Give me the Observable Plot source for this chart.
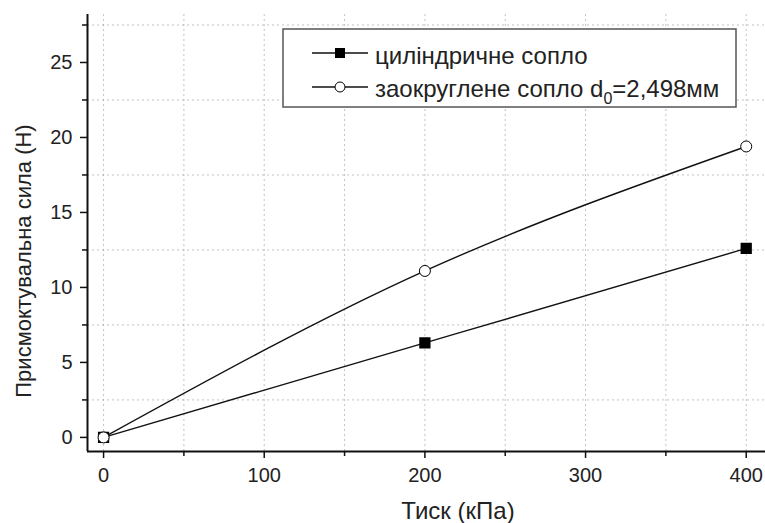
<!DOCTYPE html>
<html><head><meta charset="utf-8">
<script src="https://cdn.jsdelivr.net/npm/d3@7"></script>
<script src="https://cdn.jsdelivr.net/npm/@observablehq/plot@0.6"></script>
<style>
body{margin:0;background:#fff;font-family:"Liberation Sans",Arial,sans-serif;}
#chart{position:relative;width:765px;height:523px;}
</style></head>
<body><div id="chart"></div>
<script>
const pressure = [0, 200, 400];
const cylindrical = [0, 6.3, 12.6];
const rounded = [0, 11.1, 19.4];
const seriesNames = ["циліндричне сопло", "заокруглене сопло d"];
const xTicks = [0, 100, 200, 300, 400];
const xMinor = [50, 150, 250, 350];
const yTicks = [0, 5, 10, 15, 20, 25];
const yMinor = [2.5, 7.5, 12.5, 17.5, 22.5, 27.5];
const xLabel = "Тиск (кПа)";
const yLabel = "Присмоктувальна сила (Н)";

const cyl = pressure.map((p, i) => ({x: p, y: cylindrical[i]}));
const rnd = pressure.map((p, i) => ({x: p, y: rounded[i]}));
const gridXs = [...xTicks, ...xMinor];

const W = 765, H = 523;
const plot = Plot.plot({
  width: W, height: H,
  marginLeft: 87, marginRight: 0, marginTop: 14, marginBottom: 72,
  style: {fontFamily: "Liberation Sans, Arial, sans-serif", background: "#fff"},
  x: {domain: [-10, 412]},
  y: {domain: [-0.94, 28.2]},
  marks: [
    Plot.ruleX(gridXs, {stroke: "#999", strokeOpacity: 0.6, strokeDasharray: "2,3", strokeWidth: 1}),
    Plot.ruleY(yMinor, {stroke: "#999", strokeOpacity: 0.6, strokeDasharray: "2,3", strokeWidth: 1}),
    Plot.axisX(xTicks, {tickSize: 7, tickFormat: () => "", stroke: "#111", strokeWidth: 1.5, label: null}),
    Plot.axisX(xMinor, {tickSize: 5, tickFormat: () => "", stroke: "#111", strokeWidth: 1.5, label: null}),
    Plot.axisY(yTicks, {tickSize: 7, tickFormat: () => "", stroke: "#111", strokeWidth: 1.5, label: null}),
    Plot.axisY(yMinor, {tickSize: 5, tickFormat: () => "", stroke: "#111", strokeWidth: 1.5, label: null}),
    Plot.text(xTicks, {x: d => d, frameAnchor: "bottom", dy: 24, text: d => String(d), fontSize: 20, fill: "#222", lineAnchor: "middle"}),
    Plot.text(yTicks, {y: d => d, frameAnchor: "left", dx: -15, text: d => String(d), fontSize: 20, fill: "#222", textAnchor: "end"}),
    Plot.ruleX([-10], {stroke: "#111", strokeWidth: 2}),
    Plot.ruleY([-0.94], {stroke: "#111", strokeWidth: 2}),
    Plot.line(cyl, {x: "x", y: "y", curve: "natural", stroke: "#111", strokeWidth: 1.4}),
    Plot.line(rnd, {x: "x", y: "y", curve: "natural", stroke: "#111", strokeWidth: 1.4}),
    Plot.dot(cyl, {x: "x", y: "y", symbol: "square", r: 5.5, fill: "#000", stroke: "#000"}),
    Plot.dot(rnd, {x: "x", y: "y", symbol: "circle", r: 5.5, fill: "#fff", stroke: "#000", strokeWidth: 1})
  ]
});
document.getElementById("chart").appendChild(plot);

const svg = d3.select(plot);
const font = "Liberation Sans, Arial, sans-serif";
const txtStyle = (size, anchor) => `font-family:${font};font-size:${size}px;text-anchor:${anchor};fill:#222;`;
// axis titles
svg.append("text").attr("x", 458).attr("y", 519).attr("style", txtStyle(24, "middle")).text(xLabel);
svg.append("text").attr("transform", "translate(31,261) rotate(-90)").attr("style", txtStyle(22, "middle")).text(yLabel);

// legend
const lg = svg.append("g");
lg.append("rect").attr("x", 283).attr("y", 29).attr("width", 453).attr("height", 78)
  .attr("fill", "#fff").attr("stroke", "#555").attr("stroke-width", 1.5);
const rows = [{y: 53, base: 64, sym: "square"}, {y: 87, base: 97, sym: "circle"}];
rows.forEach((r, i) => {
  lg.append("line").attr("x1", 312).attr("x2", 368).attr("y1", r.y).attr("y2", r.y)
    .attr("stroke", "#111").attr("stroke-width", 1.4);
  if (r.sym === "square") {
    lg.append("rect").attr("x", 335).attr("y", r.y - 5).attr("width", 10).attr("height", 10).attr("fill", "#000");
  } else {
    lg.append("circle").attr("cx", 340).attr("cy", r.y).attr("r", 5).attr("fill", "#fff").attr("stroke", "#000");
  }
  const t = lg.append("text").attr("x", 375).attr("y", r.base).attr("style", txtStyle(24, "start"));
  t.append("tspan").text(seriesNames[i]);
  if (i === 1) {
    t.append("tspan").attr("style", "font-size:16px").attr("dy", 7).text("0");
    t.append("tspan").attr("dy", -7).text("=2,498мм");
  }
});
</script>
</body></html>
